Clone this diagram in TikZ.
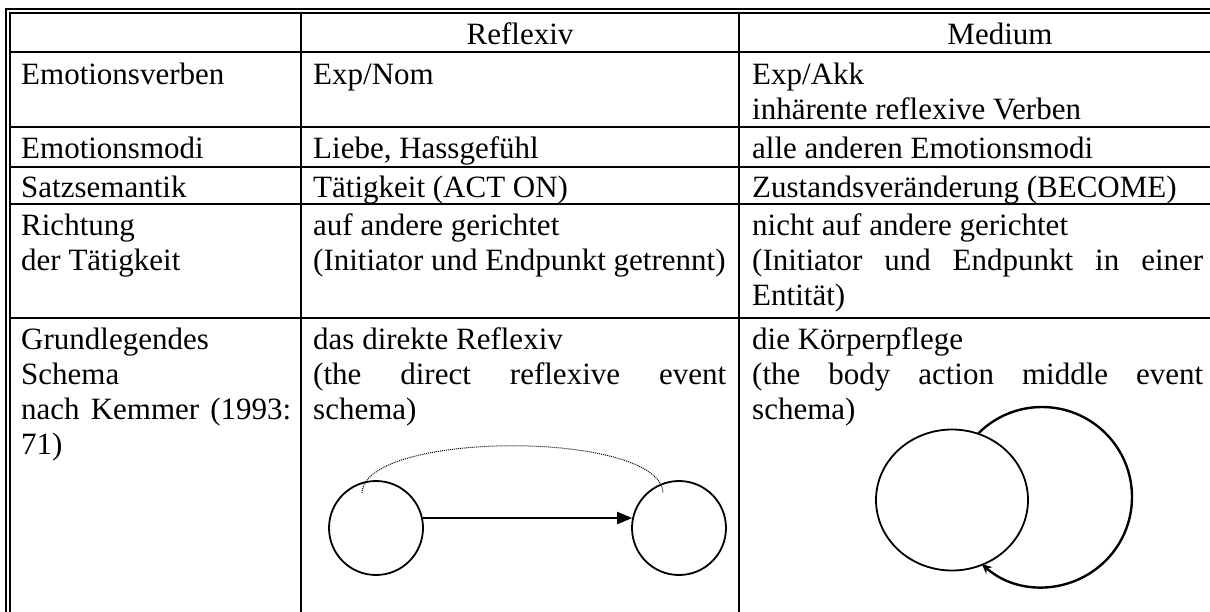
\documentclass[tikz,border=0pt]{standalone}
\usepackage{fontspec}
\setmainfont{Liberation Serif}
\usetikzlibrary{arrows.meta,shapes.geometric}
\newcommand\cellfont{\fontsize{31}{35}\selectfont}
\begin{document}
\begin{tikzpicture}[x=1pt,y=-1pt,
  rule/.style={line width=1.8pt},
  cell/.style={anchor=base west,inner sep=0pt,font=\cellfont},
  hcell/.style={anchor=base,inner sep=0pt,font=\cellfont},
  ring/.style={circle,draw,line width=1.8pt,minimum size=94pt,inner sep=0pt}]
\useasboundingbox (0,0) rectangle (1210,611);
\fill[white] (0,0) rectangle (1210,611);
% double border
\draw[rule] (1212,9) -- (6,9) -- (6,613);
\draw[rule] (1212,13) -- (10,13) -- (10,613);
% grid
\foreach \yy in {52,127,167,204,318} \draw[rule] (10,\yy) -- (1212,\yy);
\draw[rule] (301,13) -- (301,613);
\draw[rule] (739,13) -- (739,613);
% header
\node[hcell] (hr) at (520,44) {Reflexiv};
\node[hcell] (hm) at (1000,44) {Medium};
% row 1
\node[cell] (a1) at (21,84) {Emotionsverben};
\node[cell] (b1) at (313,84) {Exp/Nom};
\node[cell] (c1) at (752,84) {Exp/Akk};
\node[cell] (c1b) at (752,119) {inhärente reflexive Verben};
% row 2
\node[cell] (a2) at (21,158) {Emotionsmodi};
\node[cell] (b2) at (313,158) {Liebe, Hassgefühl};
\node[cell] (c2) at (752,158) {alle anderen Emotionsmodi};
% row 3
\node[cell] (a3) at (21,197) {Satzsemantik};
\node[cell] (b3) at (313,197) {Tätigkeit (ACT ON)};
\node[cell] (c3) at (752,197) {Zustandsveränderung (BECOME)};
% row 4
\node[cell] (a4) at (21,235) {Richtung};
\node[cell] (a4b) at (21,270) {der Tätigkeit};
\node[cell] (b4) at (313,235) {auf andere gerichtet};
\node[cell] (b4b) at (313,270) {(Initiator und Endpunkt getrennt)};
\node[cell] (c4) at (752,235) {nicht auf andere gerichtet};
\node[cell] (c4b) at (752,270) {\hbox to 451pt{(Initiator\hfill und\hfill Endpunkt\hfill in\hfill einer}};
\node[cell] (c4c) at (752,305) {Entität)};
% row 5
\node[cell] (a5) at (21,349) {Grundlegendes};
\node[cell] (a5b) at (21,384) {Schema};
\node[cell] (a5c) at (21,419) {\hbox to 270pt{nach\hfill Kemmer\hfill (1993:}};
\node[cell] (a5d) at (21,454) {71)};
\node[cell] (b5) at (313,349) {das direkte Reflexiv};
\node[cell] (b5b) at (313,384) {\hbox to 413pt{(the\hfill direct\hfill reflexive\hfill event}};
\node[cell] (b5c) at (313,419) {schema)};
\node[cell] (c5) at (752,349) {die Körperpflege};
\node[cell] (c5b) at (752,384) {\hbox to 451pt{(the\hfill body\hfill action\hfill middle\hfill event}};
\node[cell] (c5c) at (752,419) {schema)};
% reflexive schema
\node[ring] (rl) at (376,528) {};
\node[ring] (rr) at (679,528) {};
\draw[line width=2.2pt,-{Triangle[length=15pt,width=12pt]}] (rl.12) -- (rr.168);
\coordinate (d1) at (362,493);
\coordinate (d2) at (663,493);
\draw[line width=1pt,densely dotted] (d1) .. controls (364,430) and (661,430) .. (d2);
% middle schema
\node[ellipse,draw,line width=1.8pt,minimum width=152pt,minimum height=141pt,inner sep=0pt] (ms) at (952,500) {};
\coordinate (bc) at (1042,497);
\draw[line width=2.4pt,-{Stealth[length=10pt,width=9pt]}] ([shift={(-135:90)}]bc) arc[start angle=-135,end angle=132,radius=90];
\end{tikzpicture}
\end{document}
